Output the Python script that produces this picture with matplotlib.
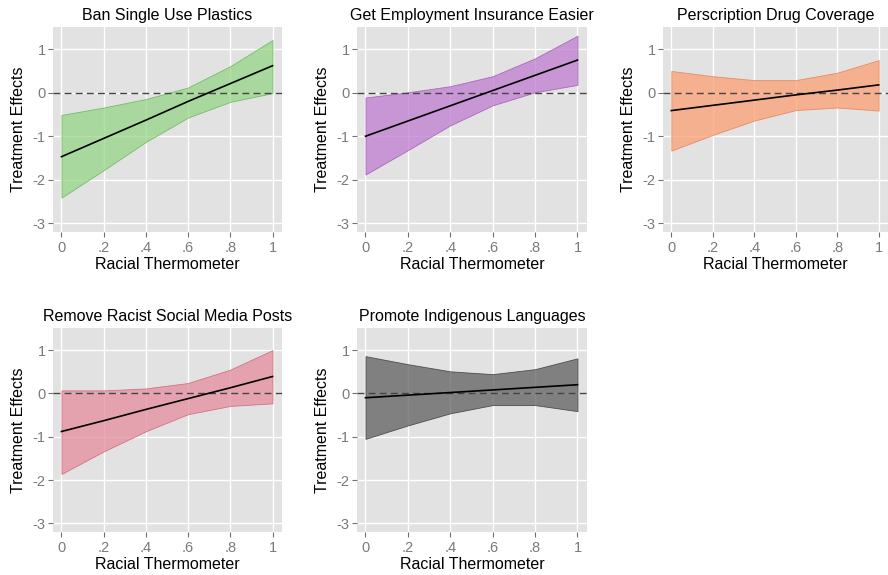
import matplotlib
matplotlib.use("Agg")
import matplotlib.pyplot as plt

plt.rcParams['font.family'] = ['Liberation Sans', 'DejaVu Sans']

x_vals = [0, 0.2, 0.4, 0.6, 0.8, 1.0]
x_ticklabels = ["0", ".2", ".4", ".6", ".8", "1"]
y_ticks = [1, 0, -1, -2, -3]
y_ticklabels = ["1", "0", "-1", "-2", "-3"]

titles = ["Ban Single Use Plastics", "Get Employment Insurance Easier",
          "Perscription Drug Coverage", "Remove Racist Social Media Posts",
          "Promote Indigenous Languages"]

est_plastics = [-1.47, -1.05, -0.63, -0.20, 0.21, 0.62]
up_plastics = [-0.51, -0.34, -0.145, 0.12, 0.61, 1.21]
lo_plastics = [-2.41, -1.78, -1.13, -0.57, -0.21, -0.01]

est_employ = [-1.00, -0.65, -0.30, 0.05, 0.40, 0.75]
up_employ = [-0.11, 0.01, 0.15, 0.38, 0.79, 1.31]
lo_employ = [-1.88, -1.32, -0.75, -0.29, 0.01, 0.18]

est_drug = [-0.41, -0.29, -0.17, -0.05, 0.06, 0.18]
up_drug = [0.50, 0.38, 0.29, 0.29, 0.46, 0.75]
lo_drug = [-1.33, -0.97, -0.64, -0.40, -0.34, -0.41]

est_racist = [-0.88, -0.63, -0.37, -0.12, 0.13, 0.39]
up_racist = [0.07, 0.07, 0.115, 0.24, 0.55, 1.00]
lo_racist = [-1.86, -1.34, -0.875, -0.48, -0.29, -0.23]

est_indig = [-0.10, -0.04, 0.02, 0.08, 0.14, 0.20]
up_indig = [0.86, 0.675, 0.51, 0.445, 0.56, 0.81]
lo_indig = [-1.05, -0.74, -0.46, -0.27, -0.27, -0.41]

ests = [est_plastics, est_employ, est_drug, est_racist, est_indig]
ups = [up_plastics, up_employ, up_drug, up_racist, up_indig]
los = [lo_plastics, lo_employ, lo_drug, lo_racist, lo_indig]

fill_colors = ["#97d588", "#c07dd0", "#fba073", "#e58d9d", "#606060"]
edge_colors = ["#5fae50", "#9a4fae", "#e8784a", "#cc5a6e", "#303030"]

W, H = 888, 575
# pixel boxes: left, top, right, bottom
boxes = [(53, 27, 282, 232), (357, 27, 587, 232), (663, 27, 888, 232),
         (53, 328, 282, 532), (357, 328, 587, 532)]

fig = plt.figure(figsize=(W / 100, H / 100), dpi=100)
fig.patch.set_facecolor("white")

for i in range(5):
    l, t, r, b = boxes[i]
    ax = fig.add_axes([l / W, (H - b) / H, (r - l) / W, (b - t) / H])
    ax.set_facecolor("#e2e2e2")
    for s in ax.spines.values():
        s.set_visible(False)
    ax.set_xlim(-0.04, 1.045)
    ax.set_ylim(-3.2, 1.51)
    ax.set_xticks(x_vals)
    ax.set_xticklabels(x_ticklabels)
    ax.set_yticks(y_ticks)
    ax.set_yticklabels(y_ticklabels)
    ax.grid(True, color="white", linewidth=1.0)
    ax.set_axisbelow(True)
    ax.tick_params(axis="both", colors="#707070", labelsize=10.5, length=3.8,
                   width=0.8)
    ax.tick_params(axis="x", pad=2.5)
    ax.tick_params(axis="y", pad=1.5)
    ax.tick_params(axis="both", labelcolor="#7a7a7a")
    ax.fill_between(x_vals, los[i], ups[i], facecolor=fill_colors[i], alpha=0.75,
                    edgecolor=edge_colors[i], linewidth=0.6, zorder=2)
    ax.axhline(0, color="#444444", linestyle=(0, (5, 3)), linewidth=1.0, zorder=3)
    ax.plot(x_vals, ests[i], color="black", linewidth=1.2, zorder=4)
    ax.set_title(titles[i], fontsize=11.5, pad=5)
    ax.set_xlabel("Racial Thermometer", fontsize=11.5, labelpad=1.5)
    ax.set_ylabel("Treatment Effects", fontsize=11.5, labelpad=5)

fig.savefig("out.png", dpi=100)
